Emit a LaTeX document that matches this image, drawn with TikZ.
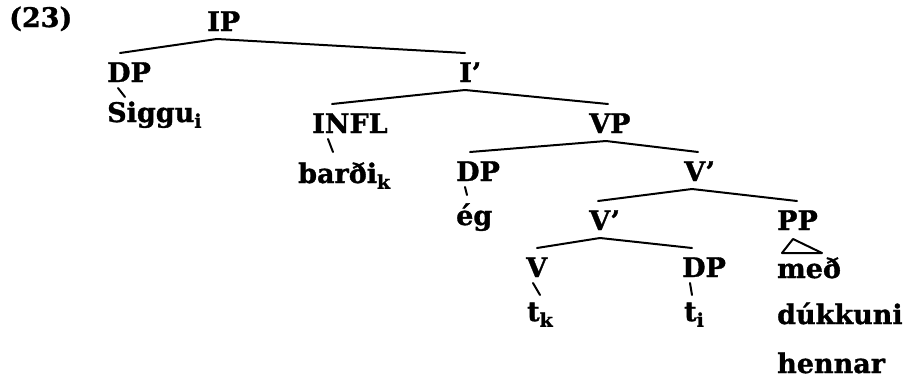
\documentclass[tikz,border=0pt]{standalone}
\usepackage{fontspec}
\setmainfont{DejaVu Serif}[BoldFeatures={FakeBold=1.2}]
\usetikzlibrary{calc}
\newcommand{\branch}[4]{\draw[edge] ($(#1.base west)+(#2,8)$) -- ($(#3.base west)+(#4,-29)$);}
\newcommand{\tick}[5]{\draw[edge] ($(#1.base west)+(#2,6)$) -- ($(#3.base west)+(#4,-#5)$);}

\begin{document}
\begin{tikzpicture}[x=1pt,y=-1pt,
    lbl/.style={anchor=base west, inner sep=0pt, font=\fontsize{27}{30}\selectfont\bfseries},
    edge/.style={line width=2pt, line cap=round, line join=round}]
    \useasboundingbox (0,0) rectangle (908,381);
    % labels
    \node[lbl] (ex) at (9,27) {(23)};
    \node[lbl] (ip) at (207,31) {IP};
    \node[lbl] (dpa) at (107,82) {DP};
    \node[lbl] (ibar) at (459,82) {I'};
    \node[lbl] (siggu) at (107,122) {Siggu\textsubscript{i}};
    \node[lbl] (infl) at (312,133) {INFL};
    \node[lbl] (vp) at (589,133) {VP};
    \node[lbl] (bardi) at (298,183) {barði\textsubscript{k}};
    \node[lbl] (dpb) at (456,181) {DP};
    \node[lbl] (vbara) at (684,181) {V'};
    \node[lbl] (eg) at (456,225) {ég};
    \node[lbl] (vbarb) at (589,230) {V'};
    \node[lbl] (pp) at (777,230) {PP};
    \node[lbl] (v) at (526,277) {V};
    \node[lbl] (dpc) at (682,277) {DP};
    \node[lbl] (med) at (777,278) {með};
    \node[lbl] (tk) at (527,321) {t\textsubscript{k}};
    \node[lbl] (ti) at (684,321) {t\textsubscript{i}};
    \node[lbl] (dukkuni) at (777,324) {dúkkuni};
    \node[lbl] (hennar) at (777,373) {hennar};
    % branches
    \branch{ip}{10}{dpa}{13}
    \branch{ip}{10}{ibar}{6}
    \branch{ibar}{6}{infl}{20}
    \branch{ibar}{6}{vp}{19}
    \branch{vp}{17}{dpb}{14}
    \branch{vp}{17}{vbara}{14}
    \branch{vbara}{8}{vbarb}{9}
    \branch{vbara}{8}{pp}{20}
    \branch{vbarb}{11}{v}{11}
    \branch{vbarb}{11}{dpc}{10}
    % ticks
    \tick{dpa}{11}{siggu}{18}{25}
    \tick{infl}{16}{bardi}{35}{31}
    \tick{dpb}{9}{eg}{11}{30}
    \tick{v}{7}{tk}{13}{26}
    \tick{dpc}{8}{ti}{8}{26}
    % triangle
    \draw[edge] ($(pp.base west)+(16,9)$) -- ($(pp.base west)+(5,23)$)
        -- ($(pp.base west)+(45,23)$) -- cycle;
\end{tikzpicture}
\end{document}
